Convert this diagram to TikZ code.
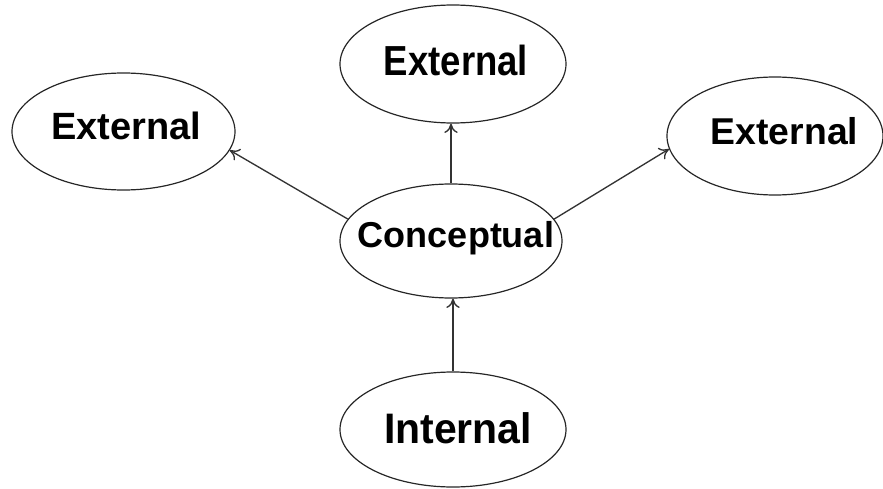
\documentclass[tikz,border=0pt]{standalone}
\usepackage{fontspec}
\setmainfont{Liberation Sans}
\usetikzlibrary{shapes.geometric,arrows.meta}
\begin{document}
\begin{tikzpicture}[x=0.75pt,y=-0.75pt,
  oval/.style={draw=black!85,line width=0.9pt,ellipse,inner sep=0pt,minimum width=2*#1*0.75pt},
  link/.style={draw=black!80,line width=1pt,-{To[length=7pt,width=10pt]}},
  lbl/.style={anchor=base,inner sep=0pt,font=\bfseries\fontsize{#1}{#1}\selectfont}]
\useasboundingbox (0,0) rectangle (883,489);
\node[oval=113,minimum height=118*0.75pt] (t) at (453,64) {};
\node[lbl=31.5pt] (tl) at ([shift={(3,11)}]t.center) {\scalebox{0.87}[1]{External}};
\node[oval=111.5,minimum height=117*0.75pt] (l) at (123.5,131.5) {};
\node[lbl=28.5pt] (ll) at ([shift={(3,7.5)}]l.center) {External};
\node[oval=108,minimum height=118*0.75pt] (r) at (775,136) {};
\node[lbl=28pt] (rl) at ([shift={(9.5,8)}]r.center) {External};
\node[oval=111,minimum height=114*0.75pt] (c) at (451,241) {};
\node[lbl=27pt] (cl) at ([shift={(5,6)}]c.center) {Conceptual};
\node[oval=113,minimum height=115*0.75pt] (i) at (453,429.5) {};
\node[lbl=32pt] (il) at ([shift={(5,13.5)}]i.center) {\scalebox{0.96}[1]{Internal}};
\draw[link] (c.168.8) -- (l.-10.7);
\draw[link] (c.12.5) -- (r.-173.6);
\draw[link] (c.north) -- (c.north |- t.south);
\draw[link] (i.north) -- (i.north |- c.south);
\end{tikzpicture}
\end{document}
